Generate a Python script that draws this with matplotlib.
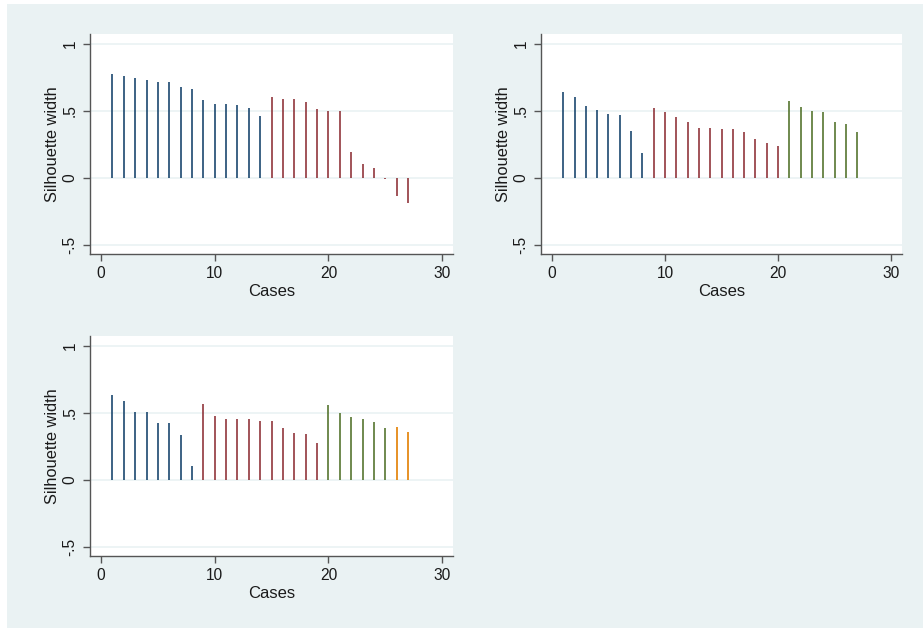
import matplotlib.pyplot as plt
import numpy as np

plt.rcParams['font.family'] = ['Liberation Sans', 'DejaVu Sans']

W, H = 923, 629

# silhouette widths per case, by cluster solution
cases = np.arange(1, 28)

sil_k2 = [0.776, 0.764, 0.749, 0.731, 0.719, 0.716, 0.681, 0.663, 0.580, 0.553,
          0.550, 0.548, 0.520, 0.462,
          0.606, 0.590, 0.588, 0.565, 0.513, 0.503, 0.500, 0.196, 0.108, 0.073,
          -0.01, -0.136, -0.186]
clu_k2 = [1] * 14 + [2] * 13

sil_k3 = [0.643, 0.603, 0.535, 0.510, 0.480, 0.470, 0.350, 0.188,
          0.520, 0.495, 0.455, 0.418, 0.373, 0.370, 0.368, 0.365, 0.343, 0.293,
          0.265, 0.240,
          0.578, 0.533, 0.498, 0.490, 0.418, 0.405, 0.343]
clu_k3 = [1] * 8 + [2] * 12 + [3] * 7

sil_k4 = [0.631, 0.588, 0.510, 0.505, 0.427, 0.422, 0.337, 0.106,
          0.568, 0.480, 0.455, 0.452, 0.452, 0.442, 0.437, 0.392, 0.349, 0.342,
          0.274,
          0.560, 0.500, 0.467, 0.452, 0.430, 0.387,
          0.397, 0.359]
clu_k4 = [1] * 8 + [2] * 11 + [3] * 6 + [4] * 2

palette = {1: '#1a476f', 2: '#90353b', 3: '#55752f', 4: '#e37e00'}
bg = '#eaf2f3'

fig = plt.figure(figsize=(W / 100, H / 100), dpi=100, facecolor='white')

# graph region background
back = fig.add_axes([7 / W, 1 - 628 / H, (W - 7) / W, (628 - 4) / H], zorder=-10)
back.set_axis_off()
back.add_patch(plt.Rectangle((0, 0), 1, 1, transform=back.transAxes,
                             facecolor=bg, edgecolor='none'))


def panel(left, right, top, bottom, sil, clu):
    ax = fig.add_axes([left / W, 1 - bottom / H, (right - left) / W, (bottom - top) / H])
    ax.set_facecolor('white')
    cols = [palette[c] for c in clu]
    ax.vlines(cases, 0, sil, colors=cols, linewidth=1.4, alpha=0.85, zorder=3)
    ax.set_xlim(-0.97, 30.96)
    ax.set_ylim(-0.567, 1.075)
    ax.set_yticks([-0.5, 0, 0.5, 1])
    ax.set_yticklabels(['-.5', '0', '.5', '1'], rotation=90, va='center')
    ax.set_xticks([0, 10, 20, 30])
    ax.grid(axis='y', color=bg, linewidth=1.2, zorder=1)
    ax.grid(axis='x', visible=False)
    for s in ['top', 'right']:
        ax.spines[s].set_visible(False)
    for s in ['left', 'bottom']:
        ax.spines[s].set_color('#555555')
        ax.spines[s].set_linewidth(1.0)
    ax.tick_params(length=5, width=1.0, color='#555555', labelsize=11.2,
                   labelcolor='#1a1a1a', pad=4)
    ax.set_xlabel('Cases', fontsize=12, labelpad=2, color='#1a1a1a')
    ax.set_ylabel('Silhouette width', fontsize=11.8, labelpad=2, color='#1a1a1a')
    return ax


panel(90, 453, 34, 254, sil_k2, clu_k2)
panel(541, 902, 34, 254, sil_k3, clu_k3)
panel(90, 453, 336, 556, sil_k4, clu_k4)

fig.savefig('out.png', dpi=100, facecolor='white')
